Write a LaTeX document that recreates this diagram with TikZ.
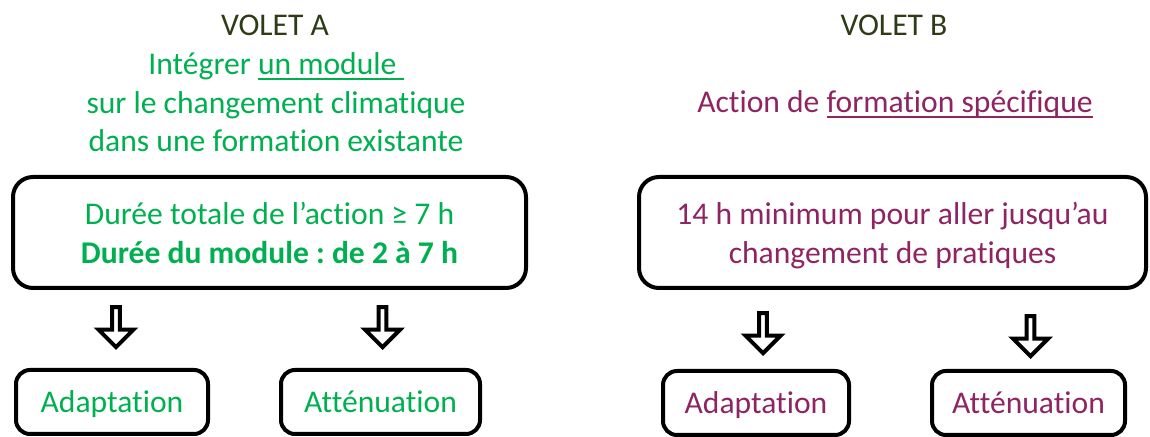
\documentclass[tikz,border=0pt]{standalone}
\usepackage{fontspec}
\setmainfont{Carlito}[Ligatures=NoCommon]
\usetikzlibrary{shapes}
\usetikzlibrary{arrows}
\usetikzlibrary{positioning}
\definecolor{vert}{HTML}{00B050}
\definecolor{berry}{HTML}{8E2461}
\definecolor{kaki}{HTML}{2F3B17}
\newsavebox{\soulbox}
\newcommand{\souligne}[1]{\sbox{\soulbox}{#1}\rlap{\rule[-2.5pt]{\wd\soulbox}{1pt}}\usebox{\soulbox}}
\frenchspacing

\begin{document}
\begin{tikzpicture}[x=0.5pt,y=-0.5pt,every node/.style={font=\fontsize{15.8}{19.25}\selectfont,inner sep=0pt},
	titre/.style={text=kaki,anchor=base},
	grandbox/.style={draw,line width=2pt,rounded corners=10pt,align=center,minimum height=55.5pt,font=\fontsize{15.8}{19.5}\selectfont,execute at begin node={\rule{0pt}{12pt}}},
	petitbox/.style={draw,line width=2pt,rounded corners=7pt,minimum height=32pt,text height=11pt,text depth=0pt},
	fleche/.style={single arrow,draw,fill=white,line width=2pt,shape border rotate=270,minimum height=20pt,minimum width=17.5pt,single arrow head extend=3.5pt}
	]
	\useasboundingbox (0,0) rectangle (1150,437);
	% volet A
	\node[titre] (voletA) at (275,36) {VOLET A};
	\node[text=vert,anchor=base,align=center] (introA) at (276,152) {Intégrer \souligne{un module\ }\\sur le changement climatique\\dans une formation existante};
	\node[grandbox,minimum width=256.5pt,text=vert] (dureeA) at (269.5,232.5) {Durée totale de l’action ≥ 7 h\\\textbf{Durée du module : de 2 à 7 h}};
	\node[petitbox,minimum width=96pt,text=vert] (adaptA) at (112,402) {Adaptation};
	\node[petitbox,minimum width=99.5pt,text=vert] (attenA) at (380.5,402) {Atténuation};
	\node[fleche,above=9pt of adaptA,xshift=2pt] (flecheA1) {};
	\node[fleche,above=9pt of attenA,xshift=1pt] (flecheA2) {};
	% volet B
	\node[titre] (voletB) at (894,36) {VOLET B};
	\node[text=berry,anchor=base] (introB) at (895,113) {Action de \souligne{formation spécifique}};
	\node[grandbox,minimum width=253.5pt,text=berry] (dureeB) at (892.5,232.5) {14 h minimum pour aller jusqu’au\\\raisebox{0pt}[\height][0pt]{changement de pratiques}};
	\node[petitbox,minimum width=93pt,text=berry] (adaptB) at (756,403) {Adaptation};
	\node[petitbox,minimum width=96.5pt,text=berry] (attenB) at (1028.5,403) {Atténuation};
	\node[fleche,above=6.5pt of adaptB,xshift=3.5pt] (flecheB1) {};
	\node[fleche,above=5pt of attenB,xshift=1pt] (flecheB2) {};
\end{tikzpicture}
\end{document}
